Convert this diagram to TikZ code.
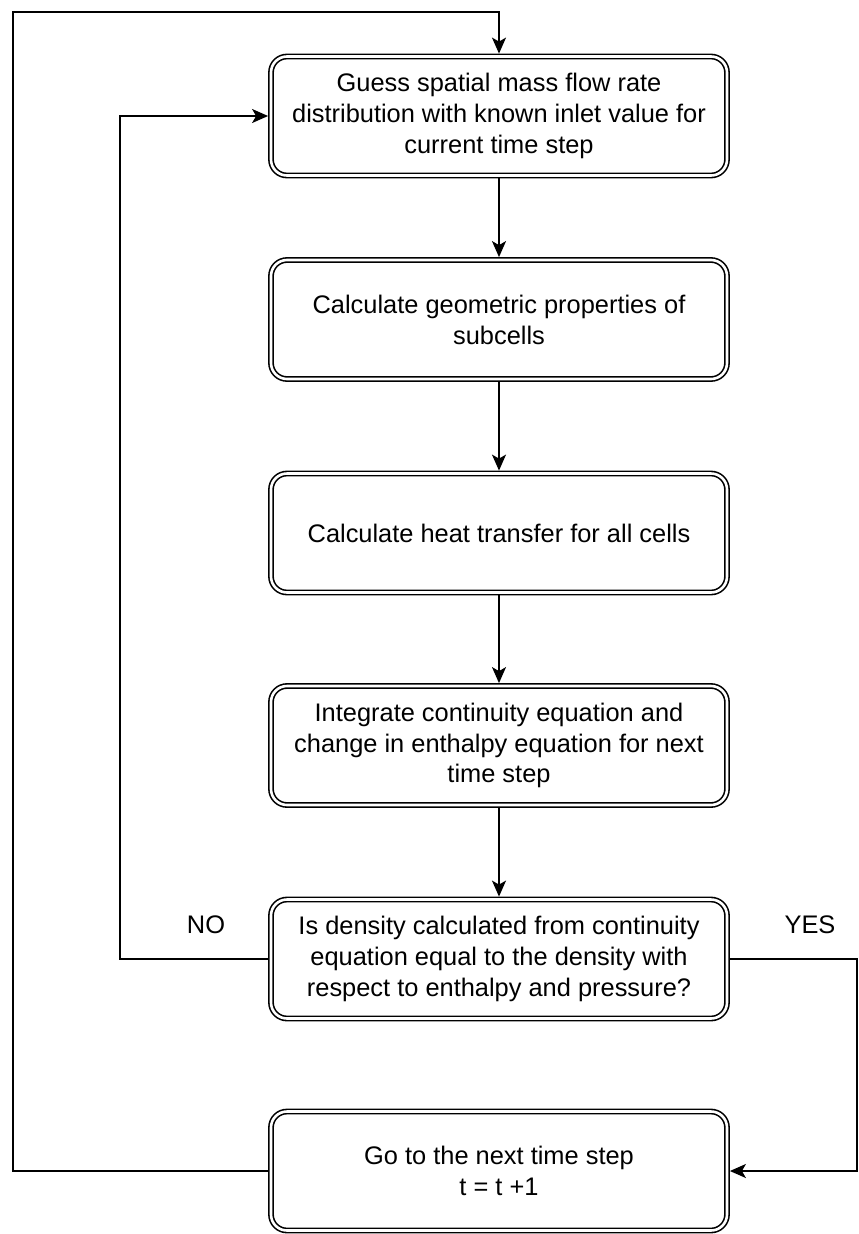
\documentclass[tikz,border=0pt]{standalone}
\usepackage{fontspec}
\setmainfont{Liberation Sans}
\usetikzlibrary{arrows.meta,positioning}
\begin{document}
\begin{tikzpicture}[x=1bp,y=-1bp,
  stepbox/.style={draw, rounded corners=16bp, line width=1.6bp, double, double distance=2.6bp,
    minimum width=456bp, minimum height=119bp, align=center, outer sep=2.9bp, inner sep=0pt,
    font=\fontsize{25.5}{31}\selectfont},
  conn/.style={line width=1.7bp},
  arr/.style={conn, -{Stealth[length=16bp,width=14bp,inset=4bp]}},
  lbl/.style={font=\fontsize{25.5}{31}\selectfont}]
\useasboundingbox (0,0) rectangle (859,1234);
\node[stepbox] (b1) at (499,116) {Guess spatial mass flow rate\\distribution with known inlet value for\\current time step};
\node[stepbox] (b2) at (499,319.5) {Calculate geometric properties of\\subcells};
\node[stepbox] (b3) at (499,533) {Calculate heat transfer for all cells};
\node[stepbox] (b4) at (499,745.5) {Integrate continuity equation and\\change in enthalpy equation for next\\time step};
\node[stepbox] (b5) at (499,959) {Is density calculated from continuity\\equation equal to the density with\\respect to enthalpy and pressure?};
\node[stepbox] (b6) at (499,1171) {Go to the next time step\\t = t +1};
\node[lbl] (no) at (206,925) {NO};
\node[lbl] (yes) at (810,925) {YES};
\coordinate (tl) at (13,12);
\coordinate (nl) at (120,959);
\coordinate (yr) at (857,959);
\draw[arr] (b1) -- (b2);
\draw[arr] (b2) -- (b3);
\draw[arr] (b3) -- (b4);
\draw[arr] (b4) -- (b5);
\draw[arr] (b5.west) -- (nl) |- (b1.west);
\draw[arr] (b5.east) -- (yr) |- (b6.east);
\draw[arr] (b6.west) -| (tl) -| (b1.north);
\end{tikzpicture}
\end{document}
